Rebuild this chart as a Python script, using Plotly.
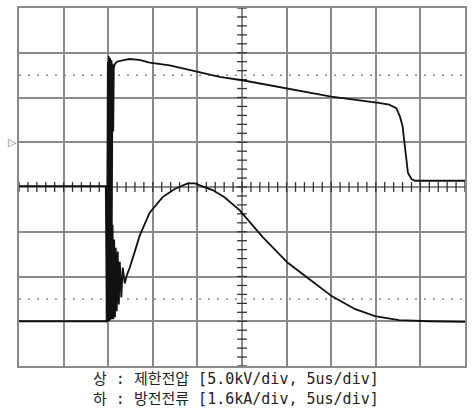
import plotly.graph_objects as go

# Time base: 5 us/div, 10 div.  Voltage: 5.0 kV/div (centre = 0 kV).  Current: 1.6 kA/div (baseline 1 div above bottom)
volt_t = [0.0, 9.73, 9.84, 9.96, 10.01, 10.07, 10.15, 10.21, 10.29, 10.36, 10.40, 10.49, 10.56, 10.63,
          10.74, 10.96, 11.86, 12.4, 13.5, 14.65, 16.9, 20.1, 22.5, 25.2, 30.1, 35.0, 40.3, 41.5,
          42.3, 42.7, 43.0, 43.2, 43.4, 43.6, 44.0, 44.4, 50.0]
volt_kv = [0.1, 0.1, -15.1, 14.0, -14.9, 14.6, -13.8, 14.4, -10.4, 14.2, -4.9, 13.8, 6.2, 13.4,
           13.7, 14.0, 14.2, 14.3, 14.2, 13.9, 13.6, 12.9, 12.3, 11.9, 11.0, 10.1, 9.4, 9.2,
           8.8, 7.9, 6.8, 5.1, 2.9, 1.6, 0.9, 0.7, 0.7]

curr_t = [0.0, 9.84, 9.9, 9.96, 10.02, 10.09, 10.16, 10.23, 10.31, 10.40, 10.49, 10.58, 10.67, 10.76,
          10.85, 10.96, 11.07, 11.19, 11.30, 11.47, 11.63, 11.86, 12.08, 12.42, 12.98, 13.53, 14.65,
          16.1, 17.45, 18.9, 19.7, 20.2, 21.7, 23.0, 24.7, 27.3, 30.1, 32.6, 35.1, 37.7, 39.9,
          42.6, 46.0, 50.0]
curr_ka = [0.0, 0.0, 4.69, 0.0, 4.52, 0.0, 4.34, 0.04, 3.98, 0.07, 3.45, 0.07, 2.92, 0.14,
           2.63, 0.36, 2.49, 0.60, 2.13, 0.85, 1.92, 1.35, 1.64, 1.92, 2.49, 3.06, 3.88,
           4.44, 4.73, 4.93, 4.93, 4.87, 4.69, 4.44, 3.98, 3.02, 2.10, 1.49, 0.89, 0.43, 0.18,
           0.04, 0.0, -0.02]

caption_lines = ["상 : 제한전압 [5.0kV/div, 5us/div]", "하 : 방전전류 [1.6kA/div, 5us/div]"]

x_minor = [i * 1.0 for i in range(0, 51)]
v_minor = [i * 1.0 for i in range(-20, 21)]

fig = go.Figure()

# centre graticule ticks
fig.add_trace(go.Scatter(x=x_minor, y=[0] * len(x_minor), mode="markers",
                         marker=dict(symbol="line-ns", size=7, line=dict(width=1.3, color="#333")),
                         hoverinfo="skip", showlegend=False))
fig.add_trace(go.Scatter(x=[25] * len(v_minor), y=v_minor, mode="markers",
                         marker=dict(symbol="line-ew", size=7, line=dict(width=1.3, color="#333")),
                         hoverinfo="skip", showlegend=False))

fig.add_trace(go.Scatter(x=volt_t, y=volt_kv, mode="lines",
                         line=dict(color="#111", width=1.8), showlegend=False))
fig.add_trace(go.Scatter(x=curr_t, y=curr_ka, mode="lines", yaxis="y2",
                         line=dict(color="#111", width=1.8), showlegend=False))

shapes = [
    dict(type="line", xref="x", yref="y", x0=0, x1=50, y0=0, y1=0, line=dict(color="#222", width=1.6), layer="below"),
    dict(type="line", xref="x", yref="y", x0=25, x1=25, y0=-20, y1=20, line=dict(color="#222", width=1.6), layer="below"),
    dict(type="line", xref="x", yref="y", x0=0, x1=50, y0=12.5, y1=12.5, line=dict(color="#888", width=1.5, dash="2px,7px"), layer="below"),
    dict(type="line", xref="x", yref="y2", x0=0, x1=50, y0=0.8, y1=0.8, line=dict(color="#888", width=1.5, dash="2px,7px"), layer="below"),
]

cap_font = dict(family="DejaVu Sans Mono, Noto Sans CJK KR", size=15, color="#222")
annotations = [
    dict(text="<br>".join(caption_lines), xref="paper", yref="paper", x=0.487, y=-0.065,
         xanchor="center", yanchor="middle", align="left", showarrow=False, font=cap_font),
    dict(text="▷", xref="paper", yref="y", x=0, y=5, xanchor="right", yanchor="middle",
         showarrow=False, font=dict(family="DejaVu Sans", size=11, color="#777")),
]

fig.update_layout(
    width=473, height=410,
    margin=dict(l=19, r=7, t=6, b=44),
    paper_bgcolor="white", plot_bgcolor="white",
    xaxis=dict(range=[0, 50], dtick=5, showgrid=True, gridcolor="#8a8a8a", gridwidth=1.5,
               zeroline=False, showticklabels=False, ticks="",
               showline=True, mirror=True, linecolor="#8a8a8a", linewidth=1.5),
    yaxis=dict(range=[-20, 20], dtick=5, showgrid=True, gridcolor="#8a8a8a", gridwidth=1.5,
               zeroline=False, showticklabels=False, ticks="",
               showline=True, mirror=True, linecolor="#8a8a8a", linewidth=1.5),
    yaxis2=dict(range=[-1.6, 11.2], overlaying="y", showgrid=False, zeroline=False,
                showticklabels=False, ticks="", showline=False),
    shapes=shapes, annotations=annotations,
)

fig.write_html("out.html")
